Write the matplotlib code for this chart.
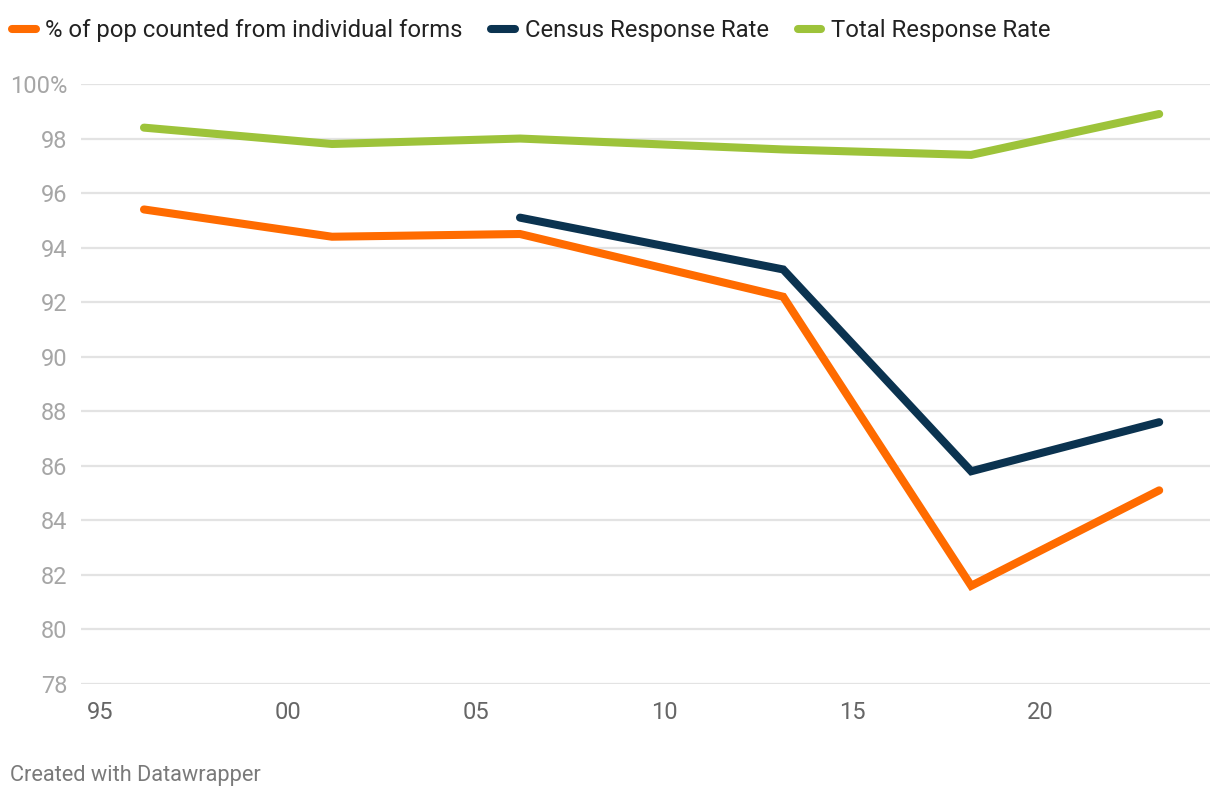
import matplotlib
matplotlib.use("Agg")
import matplotlib.pyplot as plt
from matplotlib.ticker import FixedLocator

plt.rcParams['font.family'] = ['Roboto', 'DejaVu Sans']

# census dates (March of each census year)
census_years = [1996.17, 2001.17, 2006.17, 2013.17, 2018.17, 2023.17]
individual_forms = [95.4, 94.4, 94.5, 92.2, 81.6, 85.1]
census_years_crr = [2006.17, 2013.17, 2018.17, 2023.17]
census_response = [95.1, 93.2, 85.8, 87.6]
total_response = [98.4, 97.8, 98.0, 97.6, 97.4, 98.9]

x_ticks = [1995, 2000, 2005, 2010, 2015, 2020]
x_tick_labels = ["95", "00", "05", "10", "15", "20"]
y_ticks = [78, 80, 82, 84, 86, 88, 90, 92, 94, 96, 98, 100]
y_tick_labels = ["78", "80", "82", "84", "86", "88", "90", "92", "94", "96", "98", "100%"]

ORANGE = "#ff6b00"
NAVY = "#0b3350"
GREEN = "#9dc33a"

fig = plt.figure(figsize=(12.2, 8), dpi=100)
ax = fig.add_axes([81 / 1220, 116 / 800, (1210 - 81) / 1220, 600 / 800])

lw = 5.8
line_kw = dict(linewidth=lw, solid_capstyle='round', solid_joinstyle='miter')
ax.plot(census_years, individual_forms, color=ORANGE,
        label="% of pop counted from individual forms", **line_kw)
ax.plot(census_years_crr, census_response, color=NAVY,
        label="Census Response Rate", **line_kw)
ax.plot(census_years, total_response, color=GREEN,
        label="Total Response Rate", **line_kw)

ax.set_ylim(78, 100)
ax.set_xlim(1995 - 19 / 37.6, 1995 + (1210 - 100) / 37.6)

ax.yaxis.set_major_locator(FixedLocator(y_ticks))
ax.set_yticklabels(y_tick_labels)
ax.set_xticks(x_ticks)
ax.set_xticklabels(x_tick_labels)

ax.grid(axis='y', color='#e3e3e3', linewidth=1.6, zorder=0)
ax.set_axisbelow(True)
for s in ax.spines.values():
    s.set_visible(False)
ax.tick_params(axis='y', length=0, pad=10, labelsize=17, labelcolor='#a6a6a6')
ax.tick_params(axis='x', length=0, pad=12, labelsize=17, labelcolor='#666666')

leg = fig.legend(loc='upper left', bbox_to_anchor=(-0.004, 0.997), ncol=3,
                 frameon=False, fontsize=17.2, handlelength=1.0,
                 handletextpad=0.4, columnspacing=1.2, borderaxespad=0.3)
for t in leg.get_texts():
    t.set_color('#222222')

fig.text(10 / 1220, 1 - 776 / 800, "Created with Datawrapper",
         fontsize=15.7, color='#7a7a7a', va='center', ha='left')

fig.savefig("out.png", dpi=100)
